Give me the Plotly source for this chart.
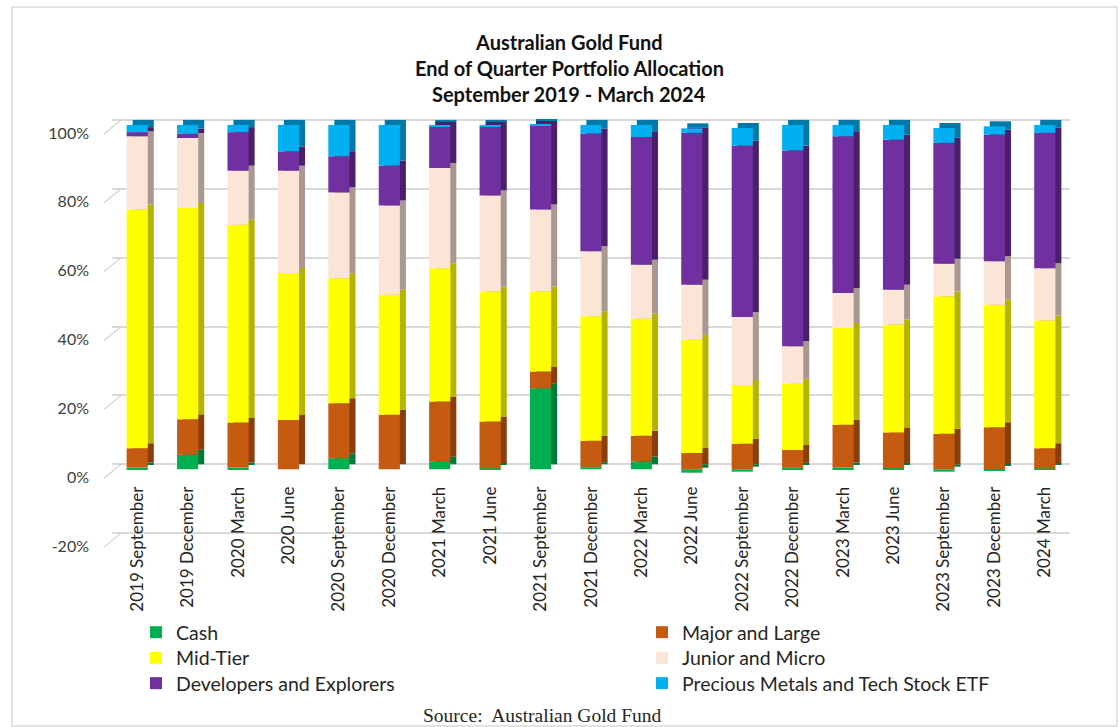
import plotly.graph_objects as go

categories = ["2019 September", "2019 December", "2020 March", "2020 June",
              "2020 September", "2020 December", "2021 March", "2021 June",
              "2021 September", "2021 December", "2022 March", "2022 June",
              "2022 September", "2022 December", "2023 March", "2023 June",
              "2023 September", "2023 December", "2024 March"]

cash = [0.5, 4.2, 0.5, 0.0, 3.2, 0.0, 2.2, 0.3, 23.5, 0.6, 2.2, -1.0,
        -0.7, 0.4, 0.5, 0.3, -0.7, -0.4, 0.2]
major_large = [5.6, 10.3, 13.1, 14.3, 16.0, 15.8, 17.5, 13.6, 4.9, 7.7, 7.5, 4.7,
               7.4, 5.2, 12.4, 10.4, 10.3, 12.2, 5.9]
mid_tier = [69.3, 61.4, 57.4, 42.7, 36.3, 34.9, 38.7, 37.7, 23.2, 36.1, 34.0, 32.9,
            17.1, 19.2, 28.1, 31.3, 39.9, 35.6, 37.1]
junior_micro = [21.3, 20.3, 15.7, 29.7, 24.9, 25.9, 29.1, 27.9, 23.8, 18.9, 15.7, 16.0,
                19.7, 10.9, 10.2, 10.1, 9.5, 12.6, 15.2]
developers = [1.2, 1.3, 11.2, 5.6, 10.5, 11.6, 12.0, 20.0, 24.3, 34.2, 37.1, 44.1,
              49.8, 56.9, 45.5, 43.6, 35.1, 36.8, 39.3]
etf = [2.1, 2.5, 2.1, 7.7, 9.1, 11.8, 0.5, 0.5, 0.3, 2.5, 3.5, 1.3,
       5.1, 7.4, 3.3, 4.3, 4.3, 2.4, 2.3]

series_names = ["Cash", "Major and Large", "Mid-Tier", "Junior and Micro",
                "Developers and Explorers", "Precious Metals and Tech Stock ETF"]
series_values = [cash, major_large, mid_tier, junior_micro, developers, etf]
front_colors = ["#00B050", "#C55A11", "#FFFF00", "#FBE5D6", "#7030A0", "#00B0F0"]
side_colors = ["#00793A", "#8A3E0B", "#B3B300", "#A8988F", "#4B1F6C", "#0079A8"]

y_ticks = [-20, 0, 20, 40, 60, 80, 100]
y_tick_text = [f"{v}%" for v in y_ticks]

W, H = 1119, 727
ML, MR, MT, MB = 112, 49, 117, 182
PW = W - ML - MR
PH = H - MT - MB
Y0, Y1 = -22.0, 102.3
pxu = PH / (Y1 - Y0)
cat_px = PW / len(categories)
dx = 6 / cat_px
dy = 5 / pxu
bar_w = 0.42

fig = go.Figure()

# depth (side/top faces) drawn behind, slightly up and right
for name, vals, col in zip(series_names, series_values, side_colors):
    fig.add_trace(go.Bar(x=categories, y=vals, name=name, marker_color=col,
                         marker_line_width=0, width=bar_w, showlegend=False,
                         xaxis="x", yaxis="y", hoverinfo="skip"))

# front faces, each with its own legend box (two columns x three rows)
legend_layout = {}
for i, (name, vals, col) in enumerate(zip(series_names, series_values, front_colors)):
    lid = "legend" if i == 0 else f"legend{i + 1}"
    fig.add_trace(go.Bar(x=categories, y=vals, name=name, marker_color=col,
                         marker_line_width=0, width=bar_w, legend=lid,
                         xaxis="x2", yaxis="y2"))
    col_i, row_i = i % 2, i // 2
    left_px = 136 + col_i * 506
    top_px = 613 + row_i * 25.5
    legend_layout[lid] = dict(orientation="v", xref="container", yref="container",
                              x=left_px / W, y=1 - top_px / H,
                              xanchor="left", yanchor="top", traceorder="normal",
                              font=dict(family="Lato", size=19.5, color="#262626"),
                              bgcolor="rgba(0,0,0,0)", itemclick=False,
                              itemdoubleclick=False)

zero_pos = (0 - Y0) / (Y1 - Y0)

fig.update_layout(
    width=W, height=H,
    margin=dict(l=ML, r=MR, t=MT, b=MB, autoexpand=False),
    paper_bgcolor="white", plot_bgcolor="white",
    barmode="relative",
    font=dict(family="Lato", size=16, color="#404040"),
    xaxis=dict(type="category", range=[-0.5 - dx, len(categories) - 0.5 - dx],
               showticklabels=False, showgrid=False, zeroline=False, showline=False,
               automargin=False),
    yaxis=dict(range=[Y0 - dy, Y1 - dy], tickvals=y_ticks, ticktext=y_tick_text,
               showgrid=True, gridcolor="#D9D9D9", gridwidth=1.5, zeroline=False,
               showline=False, ticks="", ticklabelshift=13, ticklabelstandoff=22,
               automargin=False,
               tickfont=dict(family="Lato", size=16, color="#404040")),
    xaxis2=dict(type="category", overlaying="x", anchor="free", position=zero_pos,
                range=[-0.5, len(categories) - 0.5], tickangle=-90, ticks="",
                showgrid=False, zeroline=False, showline=False, ticklabelstandoff=13,
                automargin=False,
                tickfont=dict(family="Lato", size=17, color="#262626")),
    yaxis2=dict(overlaying="y", range=[Y0, Y1], visible=False),
    showlegend=True,
    **legend_layout,
)

def px_to_paper_x(px):
    return (px - ML) / PW

def px_to_paper_y(py):
    return (MT + PH - py) / PH

# slanted wall tick marks joining each label to its gridline
for v in y_ticks:
    back_py = MT + (Y1 - dy - v) * pxu
    fig.add_shape(type="line", xref="paper", yref="paper",
                  x0=px_to_paper_x(104), y0=px_to_paper_y(back_py + 14),
                  x1=px_to_paper_x(121), y1=px_to_paper_y(back_py),
                  line=dict(color="#D0D0D0", width=1.2))

titles = [("Australian Gold Fund", 42), ("End of Quarter Portfolio Allocation", 68),
          ("September 2019 - March 2024", 94)]
for txt, py in titles:
    fig.add_annotation(text=f"<b>{txt}</b>", xref="paper", yref="paper",
                       x=px_to_paper_x(569), y=px_to_paper_y(py), showarrow=False,
                       xanchor="center", yanchor="middle",
                       font=dict(family="Lato", size=20, color="#111111"))

fig.add_annotation(text="Source:  Australian Gold Fund", xref="paper", yref="paper",
                   x=px_to_paper_x(542), y=px_to_paper_y(715), showarrow=False,
                   xanchor="center", yanchor="middle",
                   font=dict(family="Liberation Serif", size=19.5, color="#262626"))

fig.add_shape(type="rect", xref="paper", yref="paper",
              x0=px_to_paper_x(12), x1=px_to_paper_x(1117),
              y0=px_to_paper_y(726), y1=px_to_paper_y(7),
              line=dict(color="#D9D9D9", width=1.5), fillcolor="rgba(0,0,0,0)",
              layer="below")

fig.write_html("out.html")
